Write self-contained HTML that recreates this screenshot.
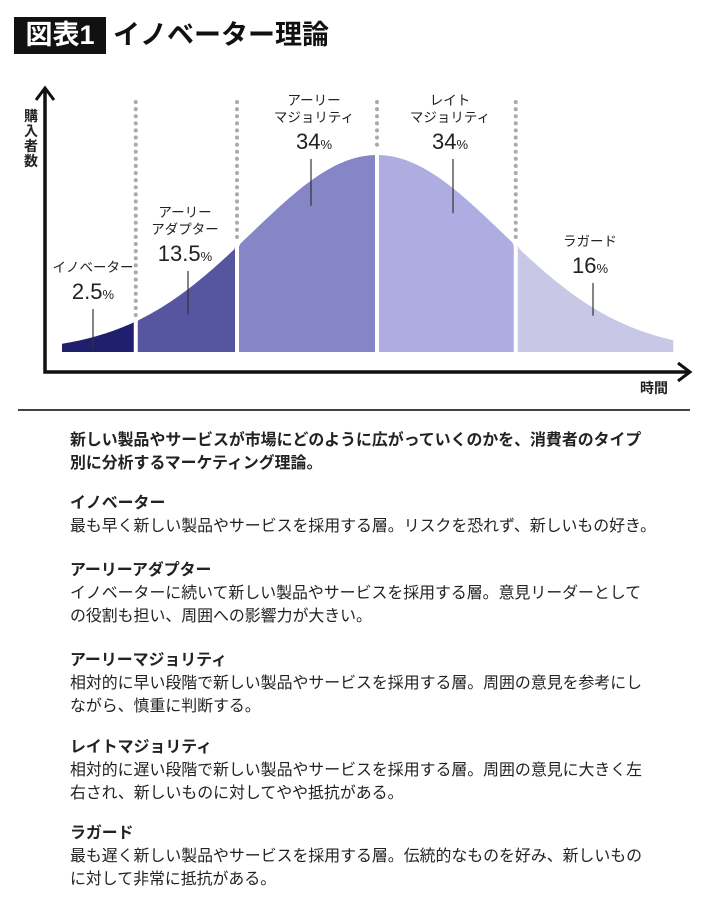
<!DOCTYPE html>
<html lang="ja"><head><meta charset="utf-8">
<style>
html,body{margin:0;padding:0;background:#fff;}
body{width:710px;height:900px;position:relative;overflow:hidden;font-family:"Liberation Sans","Noto Sans CJK JP",sans-serif;color:#222;}
.title-box{position:absolute;left:14px;top:17px;width:92px;height:37px;background:#111;color:#fff;font-size:27px;font-weight:bold;line-height:37px;text-align:center;}
.title-text{position:absolute;left:113px;top:17px;font-size:27px;font-weight:bold;line-height:37px;color:#111;}
.sep{position:absolute;left:18px;top:409px;width:672px;height:1.5px;background:#444;}
.p{position:absolute;left:70px;font-size:15.9px;line-height:23px;white-space:nowrap;color:#222;}
.b{font-weight:bold;}
svg text{font-family:"Liberation Sans","Noto Sans CJK JP",sans-serif;}
</style></head><body>
<div class="title-box">図表1</div>
<div class="title-text">イノベーター理論</div>
<svg id="chart" width="710" height="405" style="position:absolute;left:0;top:0"></svg>
<div class="sep"></div>
<div class="p b" style="top:429px">新しい製品やサービスが市場にどのように広がっていくのかを、消費者のタイプ<br>別に分析するマーケティング理論。</div>
<div class="p b" style="top:492px">イノベーター</div>
<div class="p" style="top:515px">最も早く新しい製品やサービスを採用する層。リスクを恐れず、新しいもの好き。</div>
<div class="p b" style="top:559px">アーリーアダプター</div>
<div class="p" style="top:582px">イノベーターに続いて新しい製品やサービスを採用する層。意見リーダーとして<br>の役割も担い、周囲への影響力が大きい。</div>
<div class="p b" style="top:649px">アーリーマジョリティ</div>
<div class="p" style="top:672px">相対的に早い段階で新しい製品やサービスを採用する層。周囲の意見を参考にし<br>ながら、慎重に判断する。</div>
<div class="p b" style="top:736px">レイトマジョリティ</div>
<div class="p" style="top:759px">相対的に遅い段階で新しい製品やサービスを採用する層。周囲の意見に大きく左<br>右され、新しいものに対してやや抵抗がある。</div>
<div class="p b" style="top:822px">ラガード</div>
<div class="p" style="top:845px">最も遅く新しい製品やサービスを採用する層。伝統的なものを好み、新しいもの<br>に対して非常に抵抗がある。</div>
<script>
const categories = [["イノベーター"],["アーリー","アダプター"],["アーリー","マジョリティ"],["レイト","マジョリティ"],["ラガード"]];
const percents = ["2.5","13.5","34","34","16"];
const boundaries = [-2.52,-1.93,-1.12,0,1.11,2.37];
const colors = ["#1f1f6e","#5555a0","#8685c6","#adade2","#c8c8e6"];
const NS="http://www.w3.org/2000/svg";
const svg=document.getElementById('chart');
const cx=377, sig=125, base=352, peak=197;
const xS=z=>cx+z*sig;
const yS=z=>base-peak*Math.exp(-z*z/2);
function mk(t,a){const e=document.createElementNS(NS,t);for(const k in a)e.setAttribute(k,a[k]);svg.appendChild(e);return e;}
for(let i=0;i<5;i++){
  const z0=boundaries[i], z1=boundaries[i+1];
  const g0=i===0?0:2, g1=i===4?0:2;
  let d=`M${xS(z0)+g0},${base}`;
  for(let k=0;k<=40;k++){const z=z0+(z1-z0)*k/40;let x=xS(z);x=Math.min(Math.max(x,xS(z0)+g0),xS(z1)-g1);d+=` L${x},${yS(z)}`;}
  d+=` L${xS(z1)-g1},${base} Z`;
  const p=mk('path',{d:d,fill:colors[i]});
  
  
}
for(let i=1;i<5;i++){
  const x=xS(boundaries[i]);
  const l=mk('line',{x1:x,y1:102,x2:x,y2:yS(boundaries[i])-6,stroke:'#aaa','stroke-width':4,'stroke-dasharray':'0.1 7','stroke-linecap':'round'});
  
  
}
const labelX=[93,185,314,450,590];
const labelTop=[267,212,100,100,241];
const lineX=[93,188,311,453,593];
for(let i=0;i<5;i++){
  const lines=categories[i];
  lines.forEach((s,j)=>{const t=mk('text',{x:labelX[i],y:labelTop[i]+j*17+5,'text-anchor':'middle','font-size':13.5,fill:'#222'});t.textContent=s;
    
    });
  const py=labelTop[i]+lines.length*17+15;
  const t=mk('text',{x:labelX[i],y:py,'text-anchor':'middle',fill:'#222'});
  
  
  const a=document.createElementNS(NS,'tspan');a.setAttribute('font-size','22');a.textContent=percents[i];t.appendChild(a);
  const b=document.createElementNS(NS,'tspan');b.setAttribute('font-size','13');b.textContent='%';t.appendChild(b);
  const z=(lineX[i]-cx)/sig;
  const ll=mk('line',{x1:lineX[i],y1:py+10,x2:lineX[i],y2:yS(z)+ (i===0?12:(i===4?8:25)),stroke:'#333','stroke-width':1.2});
  
  
}
const ax=mk('path',{d:'M45,90 L45,372 L688,372',fill:'none',stroke:'#111','stroke-width':3.5});


const ay=mk('path',{d:'M36,100 L45,88 L54,100',fill:'none',stroke:'#111','stroke-width':3});


const axa=mk('path',{d:'M678,363 L690,372 L678,381',fill:'none',stroke:'#111','stroke-width':3});


const yt=["購","入","者","数"];
yt.forEach((c,j)=>{const t=mk('text',{x:31,y:121+j*15,'text-anchor':'middle','font-size':14,'font-weight':'bold',fill:'#222'});t.textContent=c;
  
  });
const xt=mk('text',{x:654,y:393,'text-anchor':'middle','font-size':14,'font-weight':'bold',fill:'#222'});
xt.textContent='時間';


</script>
</body></html>
